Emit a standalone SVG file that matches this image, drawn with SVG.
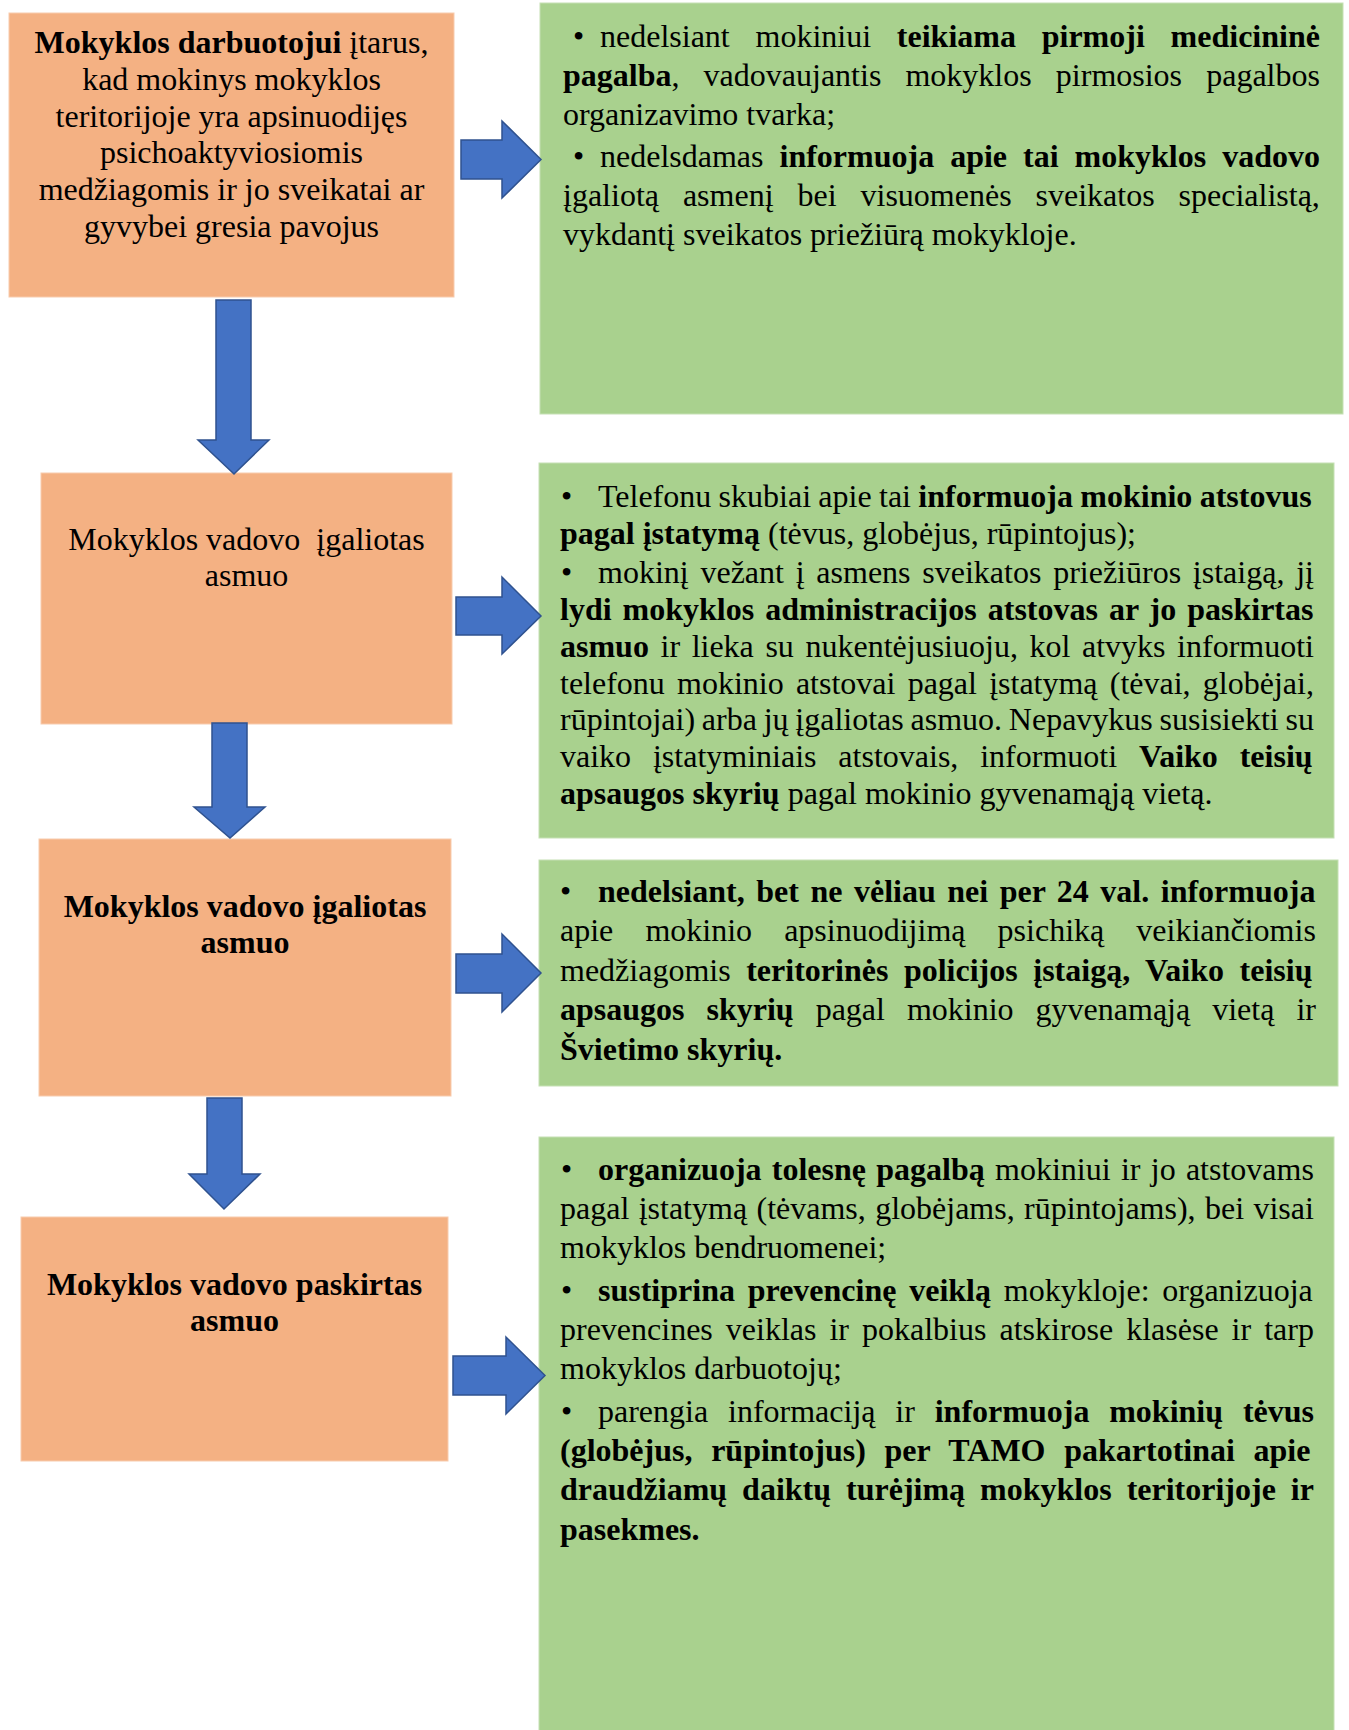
<svg xmlns="http://www.w3.org/2000/svg" width="1349" height="1730" viewBox="0 0 1349 1730">
<style>
.t{font-family:"Liberation Serif","Times New Roman",serif;font-size:32px;fill:#000}
.c{text-anchor:middle}
.b{font-weight:bold}
.o{fill:#F4B183;stroke:#F8CBAD;stroke-width:1}
.g{fill:#A9D18E;stroke:#C5E0B4;stroke-width:1}
.arr{fill:#4472C4;stroke:#2F528F;stroke-width:1.5;stroke-linejoin:miter}
</style>
<rect width="1349" height="1730" fill="#fff"/>

<g id="node-o1">
<rect class="o" x="9" y="13" width="445" height="284"/>
<text class="t c" x="231.5" y="53"><tspan class="b">Mokyklos darbuotojui</tspan> įtarus,</text>
<text class="t c" x="231.5" y="90">kad mokinys mokyklos</text>
<text class="t c" x="231.5" y="127">teritorijoje yra apsinuodijęs</text>
<text class="t c" x="231.5" y="163">psichoaktyviosiomis</text>
<text class="t c" x="231.5" y="200">medžiagomis ir jo sveikatai ar</text>
<text class="t c" x="231.5" y="237">gyvybei gresia pavojus</text>
</g>

<g id="node-g1">
<rect class="g" x="540" y="3" width="803" height="411"/>
<text class="t" x="573" y="47">•</text>
<text class="t" x="600" y="47" word-spacing="17.78">nedelsiant mokiniui <tspan class="b">teikiama pirmoji medicininė</tspan></text>
<text class="t" x="563" y="86" word-spacing="16.13"><tspan class="b">pagalba</tspan>, vadovaujantis mokyklos pirmosios pagalbos</text>
<text class="t" x="563" y="125">organizavimo tvarka;</text>
<text class="t" x="573" y="167">•</text>
<text class="t" x="600" y="167" word-spacing="8">nedelsdamas <tspan class="b">informuoja apie tai mokyklos vadovo</tspan></text>
<text class="t" x="563" y="206" word-spacing="15.94">įgaliotą asmenį bei visuomenės sveikatos specialistą,</text>
<text class="t" x="563" y="245">vykdantį sveikatos priežiūrą mokykloje.</text>
</g>

<g id="node-o2">
<rect class="o" x="41" y="473" width="411" height="251"/>
<text class="t c" x="246.5" y="550" xml:space="preserve">Mokyklos vadovo  įgaliotas</text>
<text class="t c" x="246.5" y="586">asmuo</text>
</g>

<g id="node-g2">
<rect class="g" x="539" y="463" width="795" height="375"/>
<text class="t" x="561" y="507">•</text>
<text class="t" x="598" y="507" word-spacing="-0.67">Telefonu skubiai apie tai <tspan class="b">informuoja mokinio atstovus</tspan></text>
<text class="t" x="560" y="544"><tspan class="b">pagal įstatymą</tspan> (tėvus, globėjus, rūpintojus);</text>
<text class="t" x="561" y="583">•</text>
<text class="t" x="598" y="583" word-spacing="3.76">mokinį vežant į asmens sveikatos priežiūros įstaigą, jį</text>
<text class="t b" x="560" y="620" word-spacing="3">lydi mokyklos administracijos atstovas ar jo paskirtas</text>
<text class="t" x="560" y="657" word-spacing="3.59"><tspan class="b">asmuo</tspan> ir lieka su nukentėjusiuoju, kol atvyks informuoti</text>
<text class="t" x="560" y="694" word-spacing="4.2">telefonu mokinio atstovai pagal įstatymą (tėvai, globėjai,</text>
<text class="t" x="560" y="730" word-spacing="-1.23">rūpintojai) arba jų įgaliotas asmuo. Nepavykus susisiekti su</text>
<text class="t" x="560" y="767" word-spacing="13.86">vaiko įstatyminiais atstovais, informuoti <tspan class="b">Vaiko teisių</tspan></text>
<text class="t" x="560" y="804"><tspan class="b">apsaugos skyrių</tspan> pagal mokinio gyvenamąją vietą.</text>
</g>

<g id="node-o3">
<rect class="o" x="39" y="839" width="412" height="257"/>
<text class="t c b" x="245" y="917">Mokyklos vadovo įgaliotas</text>
<text class="t c b" x="245" y="953">asmuo</text>
</g>

<g id="node-g3">
<rect class="g" x="539" y="860" width="799" height="226"/>
<text class="t" x="560" y="902">•</text>
<text class="t b" x="598" y="902" word-spacing="3.53">nedelsiant, bet ne vėliau nei per 24 val. informuoja</text>
<text class="t" x="560" y="941" word-spacing="24.1">apie mokinio apsinuodijimą psichiką veikiančiomis</text>
<text class="t" x="560" y="981" word-spacing="7.56">medžiagomis <tspan class="b">teritorinės policijos įstaigą, Vaiko teisių</tspan></text>
<text class="t" x="560" y="1020" word-spacing="14"><tspan class="b">apsaugos skyrių</tspan> pagal mokinio gyvenamąją vietą ir</text>
<text class="t b" x="560" y="1060">Švietimo skyrių.</text>
</g>

<g id="node-o4">
<rect class="o" x="21" y="1217" width="427" height="244"/>
<text class="t c b" x="234.5" y="1295">Mokyklos vadovo paskirtas</text>
<text class="t c b" x="234.5" y="1331">asmuo</text>
</g>

<g id="node-g4">
<rect class="g" x="539" y="1137" width="795" height="600"/>
<text class="t" x="561" y="1180">•</text>
<text class="t" x="598" y="1180" word-spacing="2.28"><tspan class="b">organizuoja tolesnę pagalbą</tspan> mokiniui ir jo atstovams</text>
<text class="t" x="560" y="1219" word-spacing="1.38">pagal įstatymą (tėvams, globėjams, rūpintojams), bei visai</text>
<text class="t" x="560" y="1258">mokyklos bendruomenei;</text>
<text class="t" x="561" y="1301">•</text>
<text class="t" x="598" y="1301" word-spacing="4.78"><tspan class="b">sustiprina prevencinę veiklą</tspan> mokykloje: organizuoja</text>
<text class="t" x="560" y="1340" word-spacing="5">prevencines veiklas ir pokalbius atskirose klasėse ir tarp</text>
<text class="t" x="560" y="1379">mokyklos darbuotojų;</text>
<text class="t" x="561" y="1422">•</text>
<text class="t" x="598" y="1422" word-spacing="11.84">parengia informaciją ir <tspan class="b">informuoja mokinių tėvus</tspan></text>
<text class="t b" x="560" y="1461" word-spacing="10.7">(globėjus, rūpintojus) per TAMO pakartotinai apie</text>
<text class="t b" x="560" y="1500" word-spacing="6.98">draudžiamų daiktų turėjimą mokyklos teritorijoje ir</text>
<text class="t b" x="560" y="1540">pasekmes.</text>
</g>

<g id="connectors">
<path class="arr" d="M461,140 H502 V121 L541,159.5 L502,198 V179 H461 Z"/>
<path class="arr" d="M456,597 H502 V577 L541,616 L502,654 V635 H456 Z"/>
<path class="arr" d="M456,954 H502 V934 L541,973 L502,1012 V993 H456 Z"/>
<path class="arr" d="M453,1356 H506 V1337 L545,1375.5 L506,1414 V1395 H453 Z"/>
<path class="arr" d="M216,300 H251 V440 H269 L234,474 L198,440 H216 Z"/>
<path class="arr" d="M212,723 H247 V807 H265 L230,838 L194,807 H212 Z"/>
<path class="arr" d="M207,1098 H242 V1174 H260 L224,1209 L189,1174 H207 Z"/>
</g>
</svg>
